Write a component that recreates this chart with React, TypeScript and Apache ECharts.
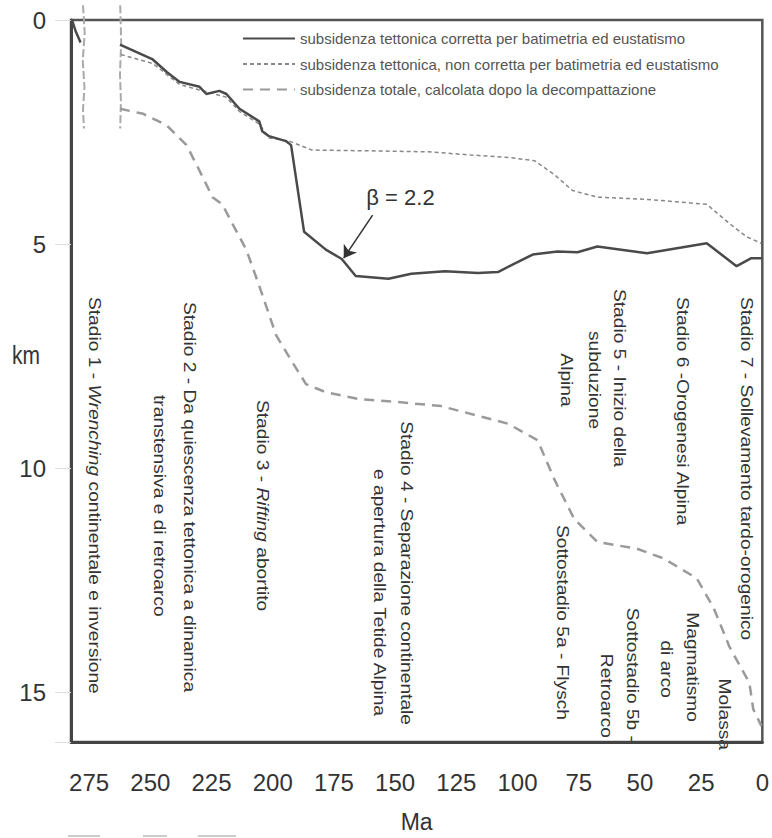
import React, { useEffect, useRef } from "react";
import * as echarts from "echarts";

const FONT = "'Liberation Sans', Arial, sans-serif";

const L1 = "subsidenza tettonica corretta per batimetria ed eustatismo";
const L2 = "subsidenza tettonica, non corretta per batimetria ed eustatismo";
const L3 = "subsidenza totale, calcolata dopo la decompattazione";

// [Ma, km]
const tectCorrected: (number | string)[][] = [
  [282, 0], [280.5, 0.25], [278.5, 0.5], [278, "-"],
  [262.4, 0.55], [249.0, 0.88], [243.3, 1.16], [238.0, 1.38], [229.9, 1.49],
  [227.1, 1.65], [221.8, 1.58], [218.9, 1.65], [213.6, 1.98], [205.5, 2.26],
  [204.3, 2.48], [201.5, 2.59], [194.6, 2.7], [192.5, 2.79], [187.2, 4.72],
  [178.3, 5.12], [171.8, 5.33], [166.1, 5.71], [152.7, 5.77], [143.4, 5.66],
  [129.6, 5.6], [116.2, 5.64], [108.0, 5.62], [93.8, 5.23], [83.7, 5.16],
  [75.5, 5.18], [67.4, 5.05], [47.1, 5.2], [22.7, 4.98], [10.5, 5.49],
  [4.5, 5.31], [0, 5.31],
];

const tectUncorrected = [
  [262.0, 0.77], [249.0, 0.97], [238.0, 1.44], [229.9, 1.56], [219.0, 1.72],
  [213.6, 2.04], [205.5, 2.32], [201.5, 2.63], [193.3, 2.7], [184.0, 2.9],
  [156.8, 2.92], [136.5, 2.94], [119.0, 3.01], [102.8, 3.07], [93.0, 3.14],
  [84.9, 3.45], [77.6, 3.8], [67.4, 3.95], [47.1, 4.0], [22.7, 4.11],
  [13.4, 4.54], [6.5, 4.83], [0.4, 4.98],
];

const totalSubs = [
  [262.4, 1.98], [253.0, 2.09], [243.3, 2.35], [235.2, 2.79], [229.9, 3.36],
  [224.6, 3.95], [220.6, 4.11], [216.5, 4.54], [210.8, 5.12], [205.5, 5.93],
  [198.6, 7.03], [192.1, 7.62], [186.4, 8.12], [178.3, 8.3], [164.9, 8.45],
  [148.7, 8.52], [131.2, 8.61], [104.0, 9.0], [91.8, 9.37], [84.9, 10.25],
  [76.8, 11.13], [67.4, 11.64], [51.2, 11.79], [40.2, 12.01], [26.8, 12.45],
  [19.9, 13.11], [13.4, 13.98], [5.3, 14.78], [3.7, 15.37], [0.4, 15.74],
];

const hiatusA = [[277.5, -0.33], [276.8, 0.3], [277.6, 0.9], [276.9, 1.5], [277.5, 2.0], [277.1, 2.42]];
const hiatusB = [[262.3, -0.33], [261.9, 0.5], [262.4, 1.2], [262.0, 1.8], [262.3, 2.42]];

const betaArrow = [[159.2, 4.35], [171.0, 5.31]];
const betaLabelAt = [147.8, 3.95];

const stageTexts = [
  { t: "{n|Stadio 1 - }{i|Wrenching}{n| continentale e inversione}", x: 95, y: 297, a: "left" },
  { t: "Stadio 2 - Da quiescenza tettonica a dinamica", x: 190, y: 302, a: "left" },
  { t: "transtensiva e di retroarco", x: 160, y: 395, a: "left" },
  { t: "{n|Stadio 3 - }{i|Rifting}{n| abortito}", x: 263, y: 400, a: "left" },
  { t: "Stadio 4 - Separazione continentale", x: 407, y: 725, a: "right" },
  { t: "e apertura della Tetide Alpina", x: 380, y: 716, a: "right" },
  { t: "Stadio 5 - Inizio della", x: 620, y: 378, a: "center" },
  { t: "subduzione", x: 595, y: 380, a: "center" },
  { t: "Alpina", x: 567, y: 380, a: "center" },
  { t: "Stadio 6 -Orogenesi Alpina", x: 683, y: 297, a: "left" },
  { t: "Stadio 7 - Sollevamento tardo-orogenico", x: 747, y: 297, a: "left" },
  { t: "Sottostadio 5a - Flysch", x: 563, y: 720, a: "right" },
  { t: "Sottostadio 5b -", x: 633, y: 742, a: "right" },
  { t: "Retroarco", x: 607, y: 738, a: "right" },
  { t: "Magmatismo", x: 693, y: 722, a: "right" },
  { t: "di arco", x: 667, y: 698, a: "right" },
  { t: "Molassa", x: 725, y: 750, a: "right" },
];

export default function App() {
  const ref = useRef<HTMLDivElement>(null);
  useEffect(() => {
    if (!ref.current) return;
    const chart = echarts.init(ref.current, null, { renderer: "svg" });
    const rich = {
      n: { fontFamily: FONT, fontSize: 16, fill: "#333", color: "#333" },
      i: { fontFamily: FONT, fontSize: 16, fontStyle: "italic", fill: "#333", color: "#333" },
    };
    const graphics: any[] = stageTexts.map((s) => ({
      type: "text",
      x: s.x,
      y: s.y,
      rotation: -Math.PI / 2,
      scaleX: 1.2,
      scaleY: 1.05,
      silent: true,
      style: {
        text: s.t,
        rich,
        fontFamily: FONT,
        fontSize: 16,
        fill: "#333",
        align: s.a,
        verticalAlign: "middle",
      },
    }));
    graphics.push({
      type: "text",
      x: 26,
      y: 355,
      scaleY: 1.2,
      style: { text: "km", fontFamily: FONT, fontSize: 21, fill: "#333", align: "center", verticalAlign: "middle" },
    });
    [[68, 100], [143, 167], [198, 236]].forEach(([a, b]) => {
      graphics.push({
        type: "line",
        silent: true,
        shape: { x1: a, y1: 836, x2: b, y2: 836 },
        style: { stroke: "#ccc", lineWidth: 2 },
      });
    });

    const option: any = {
      animation: false,
      backgroundColor: "#fff",
      grid: { left: 71, right: 6, top: 20, bottom: 85, show: true, borderColor: "#555", borderWidth: 2.5, backgroundColor: "transparent" },
      legend: {
        data: [L1, L2, L3],
        orient: "vertical",
        left: 242,
        top: 31,
        padding: 0,
        itemWidth: 52,
        itemHeight: 18,
        itemGap: 10.5,
        itemStyle: { opacity: 0 },
        textStyle: { fontFamily: FONT, fontSize: 15, color: "#555" },
        selectedMode: false,
      },
      xAxis: {
        type: "value",
        inverse: true,
        min: 0,
        max: 282.4,
        interval: 25,
        name: "Ma",
        nameLocation: "middle",
        nameGap: 68,
        nameTextStyle: { fontFamily: FONT, fontSize: 23, color: "#333" },
        axisLine: { show: true, onZero: false, lineStyle: { color: "#444", width: 3 } },
        axisTick: { show: false },
        splitLine: { show: false },
        axisLabel: {
          fontFamily: FONT,
          fontSize: 24,
          color: "#333",
          margin: 28,
          formatter: (v: number) => (v % 25 === 0 ? String(v) : ""),
        },
      },
      yAxis: {
        type: "value",
        inverse: true,
        min: 0,
        max: 16.1,
        interval: 5,
        axisLine: { show: true, onZero: false, lineStyle: { color: "#444", width: 3 } },
        axisTick: { show: true, length: 16, lineStyle: { color: "#ddd", width: 1 } },
        splitLine: { show: false },
        axisLabel: {
          fontFamily: FONT,
          fontSize: 24,
          color: "#333",
          margin: 25,
          formatter: (v: number) => (v % 5 === 0 ? String(v) : ""),
        },
      },
      series: [
        {
          name: "hA",
          type: "line",
          data: hiatusA,
          symbol: "none",
          clip: false,
          silent: true,
          lineStyle: { color: "#aaa", width: 2, type: [8, 3] },
        },
        {
          name: "hB",
          type: "line",
          data: hiatusB,
          symbol: "none",
          clip: false,
          silent: true,
          lineStyle: { color: "#aaa", width: 2, type: [8, 3] },
        },
        {
          name: L3,
          type: "line",
          data: totalSubs,
          symbol: "none",
          lineStyle: { color: "#9a9a9a", width: 2.5, type: [10, 7] },
          itemStyle: { color: "#9a9a9a" },
        },
        {
          name: L2,
          type: "line",
          data: tectUncorrected,
          symbol: "none",
          lineStyle: { color: "#888", width: 1.5, type: [4, 3] },
          itemStyle: { color: "#888" },
        },
        {
          name: L1,
          type: "line",
          data: tectCorrected,
          symbol: "none",
          connectNulls: false,
          lineStyle: { color: "#4a4a4a", width: 2.5 },
          itemStyle: { color: "#4a4a4a" },
          markLine: {
            silent: true,
            symbol: ["none", "arrow"],
            symbolSize: 12,
            label: { show: false },
            lineStyle: { color: "#333", width: 1.5, type: "solid" },
            data: [[{ coord: betaArrow[0] }, { coord: betaArrow[1] }]],
          },
          markPoint: {
            silent: true,
            symbol: "circle",
            symbolSize: 0,
            data: [
              {
                coord: betaLabelAt,
                label: {
                  show: true,
                  position: "inside",
                  formatter: "β = 2.2",
                  fontFamily: FONT,
                  fontSize: 22,
                  color: "#333",
                },
              },
            ],
          },
        },
      ],
      graphic: graphics,
    };
    chart.setOption(option);
    return () => chart.dispose();
  }, []);
  return <div ref={ref} style={{ position: "absolute", left: 0, top: 0, width: 772, height: 838 }} />;
}
